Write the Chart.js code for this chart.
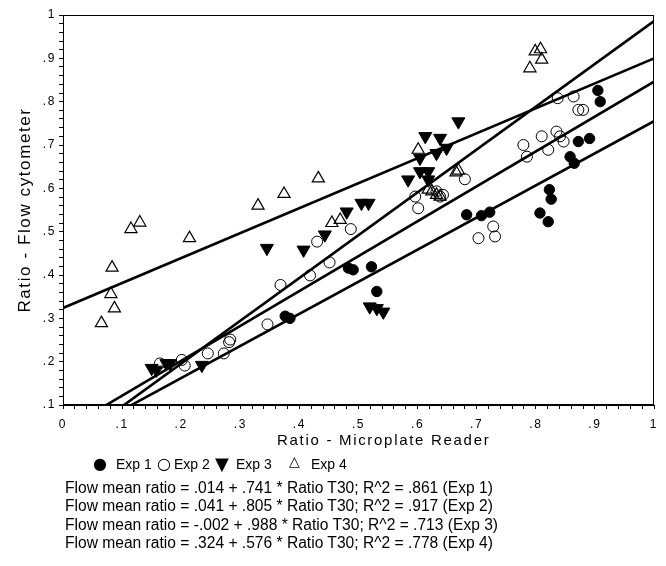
<!DOCTYPE html>
<html>
<head>
<meta charset="utf-8">
<script src="https://cdn.jsdelivr.net/npm/chart.js@4.4.0/dist/chart.umd.min.js"></script>
<style>
    body { margin: 0; background: #fff; }
    #cadre { position: relative; width: 666px; height: 566px; font-family: "Liberation Sans", Arial, sans-serif; color: #000; }
    #graphique { position: absolute; left: 0; top: 0; }
    #titreX { position: absolute; left: 277px; top: 431px; font-size: 15px; line-height: 18px; letter-spacing: 1.7px; white-space: nowrap; }
    .leg { position: absolute; top: 455px; font-size: 14px; line-height: 18px; white-space: nowrap; }
    .sym { font-family: "DejaVu Sans", sans-serif; }
    #equations { position: absolute; left: 65px; top: 479px; font-size: 15.6px; line-height: 18.3px; white-space: nowrap; }
</style>
</head>
<body>
<div id="cadre">
    <canvas id="graphique" width="666" height="566"></canvas>
    <div id="titreX">Ratio - Microplate Reader</div>
    <div id="legende"></div>
    <div id="equations"></div>
</div>
<script>
// Donnees (ratio lecteur de plaque / ratio cytometre)
const exp1X = [.376, .384, .483, .491, .522, .531, .683, .708, .722, .807, .821, .823, .826, .858, .865, .872, .891, .905, .909];
const exp1Y = [.305, .300, .416, .412, .419, .362, .539, .537, .545, .543, .523, .597, .575, .673, .658, .708, .715, .826, .800];

const exp2X = [.164, .201, .206, .245, .272, .281, .283, .346, .368, .418, .451, .430, .487, .596, .601, .632, .638, .643, .680, .703, .728, .731, .779, .785, .810, .821, .835, .841, .847, .837, .864, .872, .880];
const exp2Y = [.196, .204, .191, .219, .219, .245, .251, .286, .377, .399, .429, .477, .506, .581, .554, .593, .581, .585, .621, .485, .512, .489, .700, .673, .720, .689, .731, .720, .708, .808, .812, .781, .781];

const exp3X = [.150, .158, .175, .181, .235, .345, .407, .443, .480, .505, .517, .519, .531, .542, .584, .604, .618, .618, .604, .632, .649, .613, .638, .669];
const exp3Y = [.185, .181, .196, .196, .192, .462, .458, .493, .546, .566, .566, .327, .323, .315, .620, .639, .639, .620, .670, .681, .693, .720, .716, .754];

const exp4X = [.065, .087, .081, .083, .115, .130, .214, .330, .374, .432, .455, .469, .601, .618, .624, .632, .638, .669, .665, .790, .799, .808, .810];
const exp4Y = [.289, .323, .356, .417, .506, .521, .485, .560, .587, .623, .520, .527, .689, .597, .593, .585, .581, .641, .637, .877, .916, .921, .897];

// Droites de regression (ordonnee a l'origine, pente, R^2)
const nomsExp = ["Exp 1", "Exp 2", "Exp 3", "Exp 4"];
const intercepts = [.014, .041, -.002, .324];
const pentes = [.741, .805, .988, .576];
const r2 = [.861, .917, .713, .778];
const symboles = ["\u25CF", "\u25CB", "\u25BC", "\u25B3"];

const police = '"Liberation Sans", Arial, sans-serif';
Chart.defaults.font.family = police;
Chart.defaults.color = "#000";

function points(xs, ys) {
    const res = [];
    for (let i = 0; i < xs.length; i++) {
        res.push({ x: xs[i], y: ys[i] });
    }
    return res;
}

function droite(i) {
    return [{ x: 0, y: intercepts[i] }, { x: 1, y: intercepts[i] + pentes[i] }];
}

// format ".014" / "-.002" comme sur la figure
function fmt(v) {
    return (v < 0 ? "-" : "") + Math.abs(v).toFixed(3).replace(/^0/, "");
}

function etiquette(v) {
    const r = Math.round(v * 100);
    if (r % 10 !== 0) return "";
    if (r === 0) return "0";
    if (r === 100) return "1";
    return "." + (r / 10);
}

// cadre autour de la zone de trace
const cadreGraphique = {
    id: "cadreGraphique",
    afterDraw(chart) {
        const { ctx, chartArea } = chart;
        ctx.save();
        ctx.strokeStyle = "#000";
        ctx.lineWidth = 1;
        ctx.strokeRect(chartArea.left + 0.5, chartArea.top + 0.5, chartArea.right - chartArea.left - 1, chartArea.bottom - chartArea.top - 1);
        ctx.restore();
    }
};

// titre de l'axe y un peu espace
const espacement = {
    id: "espacement",
    beforeDraw(chart) { chart.ctx.letterSpacing = "1.6px"; },
    beforeDatasetsDraw(chart) { chart.ctx.letterSpacing = "0px"; }
};

const styleDroite = { type: "line", borderColor: "#000", borderWidth: 2.6, pointRadius: 0, fill: false, order: 5 };

const datasets = [
    { label: nomsExp[0], data: points(exp1X, exp1Y), pointStyle: "circle", pointRadius: 5.2, pointBackgroundColor: "#000", pointBorderColor: "#000", pointBorderWidth: 1, order: 1 },
    { label: nomsExp[1], data: points(exp2X, exp2Y), pointStyle: "circle", pointRadius: 5.5, pointBackgroundColor: "rgba(0,0,0,0)", pointBorderColor: "#000", pointBorderWidth: 1, order: 1 },
    { label: nomsExp[2], data: points(exp3X, exp3Y), pointStyle: "triangle", pointRotation: 180, pointRadius: 7.5, pointBackgroundColor: "#000", pointBorderColor: "#000", pointBorderWidth: 1, order: 1 },
    { label: nomsExp[3], data: points(exp4X, exp4Y), pointStyle: "triangle", pointRadius: 7, pointBackgroundColor: "rgba(0,0,0,0)", pointBorderColor: "#000", pointBorderWidth: 1.2, order: 1 }
];
for (let i = 0; i < 4; i++) {
    datasets.push(Object.assign({ label: "fit " + nomsExp[i], data: droite(i) }, styleDroite));
}

new Chart(document.getElementById("graphique"), {
    type: "scatter",
    data: { datasets: datasets },
    options: {
        responsive: false,
        animation: false,
        devicePixelRatio: 1,
        layout: { padding: { left: 0, right: 12, top: 15, bottom: 111 } },
        plugins: { legend: { display: false }, tooltip: { enabled: false } },
        scales: {
            x: {
                type: "linear", min: 0, max: 1,
                ticks: { stepSize: 0.02, autoSkip: false, maxRotation: 0, font: { size: 12 }, padding: 8, callback: etiquette },
                grid: { drawOnChartArea: false, tickLength: 4, color: "#000" },
                border: { color: "#000", width: 1 },
                afterFit: function (s) { s.height = 50; }
            },
            y: {
                type: "linear", min: 0.1, max: 1,
                ticks: { stepSize: 0.02, autoSkip: false, font: { size: 12 }, padding: 3, callback: etiquette },
                grid: { drawOnChartArea: false, tickLength: 4, color: "#000" },
                border: { color: "#000", width: 1 },
                title: { display: true, text: "Ratio - Flow cytometer", font: { size: 17 }, padding: { top: 15 } },
                afterFit: function (s) { s.width = 63; }
            }
        }
    },
    plugins: [cadreGraphique, espacement]
});

// Legende et equations en texte
const legende = document.getElementById("legende");
const xSym = [93, 157, 215, 289];
const xTxt = [116, 174, 236, 311];
const taillesSym = ["16px", "16px", "18px", "14px"];
for (let i = 0; i < 4; i++) {
    const s = document.createElement("span");
    s.className = "leg sym";
    s.style.left = xSym[i] + "px";
    s.style.fontSize = taillesSym[i];
    if (i === 3) s.style.top = "452px";
    s.textContent = symboles[i];
    legende.appendChild(s);
    const t = document.createElement("span");
    t.className = "leg";
    t.style.left = xTxt[i] + "px";
    t.textContent = nomsExp[i];
    legende.appendChild(t);
}

const equations = document.getElementById("equations");
for (let i = 0; i < 4; i++) {
    const ligne = document.createElement("div");
    ligne.textContent = `Flow mean ratio = ${fmt(intercepts[i])} + ${fmt(pentes[i])} * Ratio T30; R^2 = ${fmt(r2[i])} (${nomsExp[i]})`;
    equations.appendChild(ligne);
}
</script>
</body>
</html>
